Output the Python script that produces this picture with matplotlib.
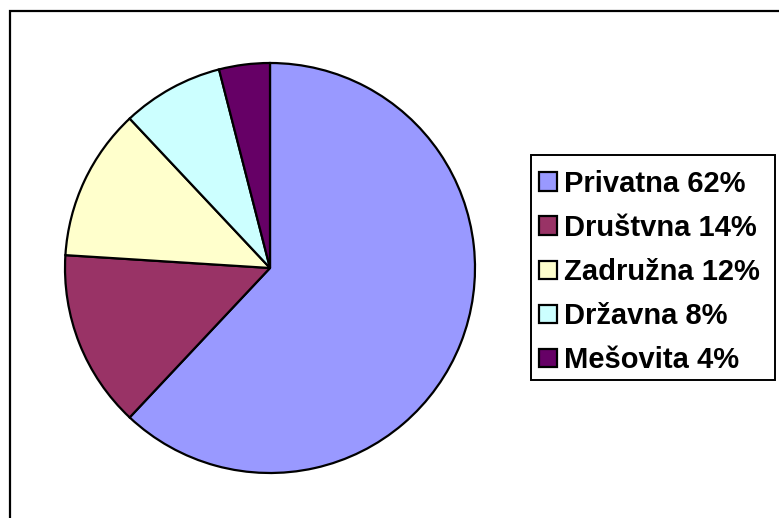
import matplotlib.pyplot as plt
from matplotlib.patches import Rectangle

plt.rcParams['font.family'] = ['Liberation Sans', 'DejaVu Sans']

labels = ["Privatna 62%", "Društvna 14%", "Zadružna 12%", "Državna 8%", "Mešovita 4%"]
shares = [62, 14, 12, 8, 4]
colors = ["#9999FF", "#993366", "#FFFFCC", "#CCFFFF", "#660066"]

fig = plt.figure(figsize=(7.79, 5.18), dpi=100)

# outer chart border (right and bottom run off the picture)
fig.patches.append(Rectangle((10 / 779, -0.05), 1.0, 1 - 11 / 518 + 0.05,
                             transform=fig.transFigure, fill=False,
                             edgecolor="black", linewidth=1.6))

ax = fig.add_axes([65 / 779, (518 - 473) / 518, 410 / 779, 410 / 518])
wedges, _ = ax.pie(shares, colors=colors, startangle=90, counterclock=False,
                   wedgeprops=dict(edgecolor="black", linewidth=1.6))
ax.set_xlim(-1, 1)
ax.set_ylim(-1, 1)
ax.set_aspect("equal")

# legend frame drawn separately so the padding can differ per side
fig.patches.append(Rectangle((531 / 779, 1 - 380 / 518), 244 / 779, 225 / 518,
                             transform=fig.transFigure, facecolor="white",
                             edgecolor="black", linewidth=1.4, zorder=2))
leg = fig.legend(wedges, labels, loc="upper left",
                 bbox_to_anchor=(539 / 779, 1 - 170 / 518),
                 frameon=False,
                 prop=dict(size=21, weight="bold"),
                 handlelength=0.6, handleheight=0.6, handletextpad=0.25,
                 labelspacing=0.55, borderpad=0, borderaxespad=0)
leg.set_zorder(3)

fig.savefig("out.png", dpi=100)
